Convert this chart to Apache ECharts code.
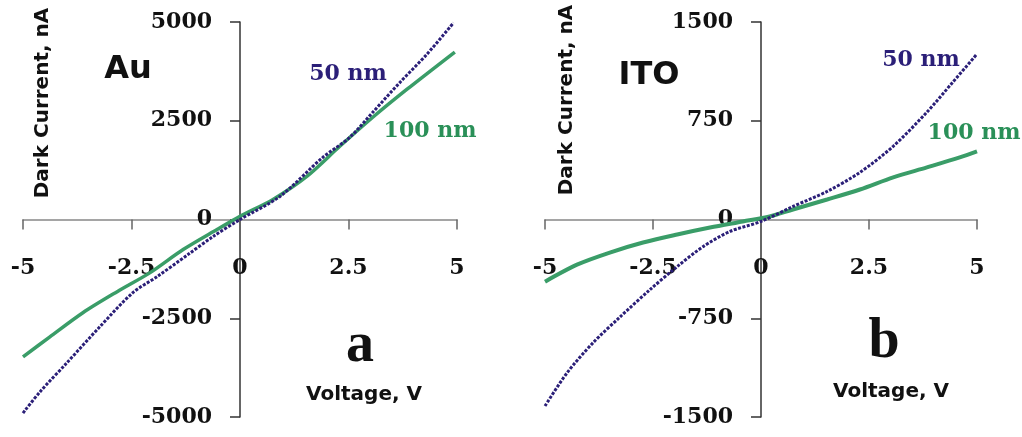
<!DOCTYPE html>
<html>
<head>
<meta charset="utf-8">
<script src="https://cdn.jsdelivr.net/npm/echarts@6/dist/echarts.min.js"></script>
<style>
html,body{margin:0;padding:0;background:#fff;}
#chart{width:1022px;height:437px;}
</style>
</head>
<body>
<div id="chart"></div>
<script>
// Panel a (Au)
const voltA50 = [-5, -4.61, -3.99, -3.23, -2.47, -1.91, -1.2, -0.62, 0, 0.92, 1.91, 2.53, 3.06, 3.69, 4.31, 4.92];
const currA50 = [-4900, -4365, -3630, -2716, -1853, -1447, -888, -431, 0, 584, 1574, 2081, 2716, 3477, 4188, 4980];
const voltA100 = [-5, -4.38, -3.62, -2.83, -2.07, -1.31, -0.53, 0, 0.76, 1.54, 2.3, 3.06, 3.85, 4.95];
const currA100 = [-3480, -2970, -2360, -1827, -1345, -761, -254, 80, 508, 1091, 1853, 2589, 3299, 4240];
// Panel b (ITO)
const voltB50 = [-5, -4.49, -3.89, -3.26, -2.57, -1.94, -1.34, -0.72, 0, 0.74, 1.53, 2.29, 3.06, 3.84, 4.44, 5];
const currB50 = [-1417, -1165, -937, -739, -533, -358, -206, -91, -15, 99, 213, 358, 556, 815, 1043, 1257];
const voltB100 = [-5, -4.26, -3.5, -2.73, -1.94, -1.18, -0.42, 0.2, 0.74, 1.53, 2.29, 3.06, 3.84, 4.6, 5];
const currB100 = [-472, -343, -251, -175, -114, -61, -15, 23, 76, 152, 228, 320, 396, 472, 518];

const xTicks = [-5, -2.5, 0, 2.5, 5];
const yTicksA = [-5000, -2500, 0, 2500, 5000];
const yTicksB = [-1500, -750, 0, 750, 1500];

const seriesNames = ['50 nm', '100 nm'];
const panelNames = ['Au', 'ITO'];
const panelLetters = ['a', 'b'];
const xTitle = 'Voltage, V';
const yTitle = 'Dark Current, nA';

const zip = (a, b) => a.map((v, i) => [v, b[i]]);
const NAVY = '#2b1f78';
const GREEN = '#3a9d68';

const GRID_H = 395;
const tickFont = {fontFamily: 'DejaVu Serif', fontWeight: 'bold', fontSize: 22, color: '#111'};

// axes are shifted (offset) so they cross at the data origin, since both ranges are symmetric
function xAxisFor(gi) {
  return {
    type: 'value', gridIndex: gi, min: xTicks[0], max: xTicks[xTicks.length - 1], interval: 2.5,
    position: 'bottom', offset: -GRID_H / 2,
    splitLine: {show: false},
    axisLine: {onZero: false, lineStyle: {color: '#888', width: 1.5}},
    axisTick: {length: 10, lineStyle: {color: '#666', width: 1.5}},
    axisLabel: Object.assign({margin: 38, formatter: v => String(v), hideOverlap: false}, tickFont)
  };
}
function yAxisFor(gi, ticks, width) {
  return {
    type: 'value', gridIndex: gi, min: ticks[0], max: ticks[ticks.length - 1], interval: ticks[1] - ticks[0],
    position: 'left', offset: -width / 2,
    splitLine: {show: false},
    axisLine: {onZero: false, lineStyle: {color: '#333', width: 1.5}},
    axisTick: {length: 10, lineStyle: {color: '#333', width: 1.5}},
    axisLabel: Object.assign({margin: 28, formatter: v => String(v), hideOverlap: false}, tickFont)
  };
}

const labelText = (txt, x, y, size, family, color) => ({
  type: 'text', x: x, y: y, z: 100,
  style: {text: txt, fill: color, font: 'bold ' + size + 'px ' + family, textAlign: 'center', textVerticalAlign: 'middle'}
});

const chart = echarts.init(document.getElementById('chart'), null, {renderer: 'canvas'});
chart.setOption({
  animation: false,
  backgroundColor: '#fff',
  grid: [
    {left: 23, top: 22, width: 434, height: GRID_H, containLabel: false, outerBoundsMode: 'none'},
    {left: 545, top: 22, width: 432, height: GRID_H, containLabel: false, outerBoundsMode: 'none'}
  ],
  xAxis: [xAxisFor(0), xAxisFor(1)],
  yAxis: [yAxisFor(0, yTicksA, 434), yAxisFor(1, yTicksB, 432)],
  series: [
    {name: seriesNames[1], type: 'line', xAxisIndex: 0, yAxisIndex: 0, data: zip(voltA100, currA100), smooth: 0.3, symbol: 'none', lineStyle: {color: GREEN, width: 3.5}},
    {name: seriesNames[0], type: 'line', xAxisIndex: 0, yAxisIndex: 0, data: zip(voltA50, currA50), smooth: 0.3, symbol: 'none', lineStyle: {color: NAVY, width: 3, type: [3, 1.5]}},
    {name: seriesNames[1], type: 'line', xAxisIndex: 1, yAxisIndex: 1, data: zip(voltB100, currB100), smooth: 0.3, symbol: 'none', lineStyle: {color: GREEN, width: 4}},
    {name: seriesNames[0], type: 'line', xAxisIndex: 1, yAxisIndex: 1, data: zip(voltB50, currB50), smooth: 0.3, symbol: 'none', lineStyle: {color: NAVY, width: 3, type: [3, 1.5]}}
  ],
  graphic: [
    labelText(panelNames[0], 128, 70, 32, 'DejaVu Sans', '#111'),
    labelText(panelNames[1], 649, 76, 32, 'DejaVu Sans', '#111'),
    labelText(seriesNames[0], 348, 74, 22, 'DejaVu Serif', NAVY),
    labelText(seriesNames[1], 430, 131, 22, 'DejaVu Serif', '#2a9058'),
    labelText(seriesNames[0], 921, 60, 22, 'DejaVu Serif', NAVY),
    labelText(seriesNames[1], 974, 133, 22, 'DejaVu Serif', '#2a9058'),
    labelText(panelLetters[0], 360, 347, 56, 'Liberation Serif', '#111'),
    labelText(panelLetters[1], 884, 343, 56, 'Liberation Serif', '#111'),
    labelText(xTitle, 364, 395, 20, 'DejaVu Sans', '#111'),
    labelText(xTitle, 891, 392, 20, 'DejaVu Sans', '#111'),
    Object.assign(labelText(yTitle, 43, 103, 20, 'DejaVu Sans', '#111'), {rotation: Math.PI / 2}),
    Object.assign(labelText(yTitle, 567, 100, 20, 'DejaVu Sans', '#111'), {rotation: Math.PI / 2})
  ]
});
</script>
</body>
</html>
